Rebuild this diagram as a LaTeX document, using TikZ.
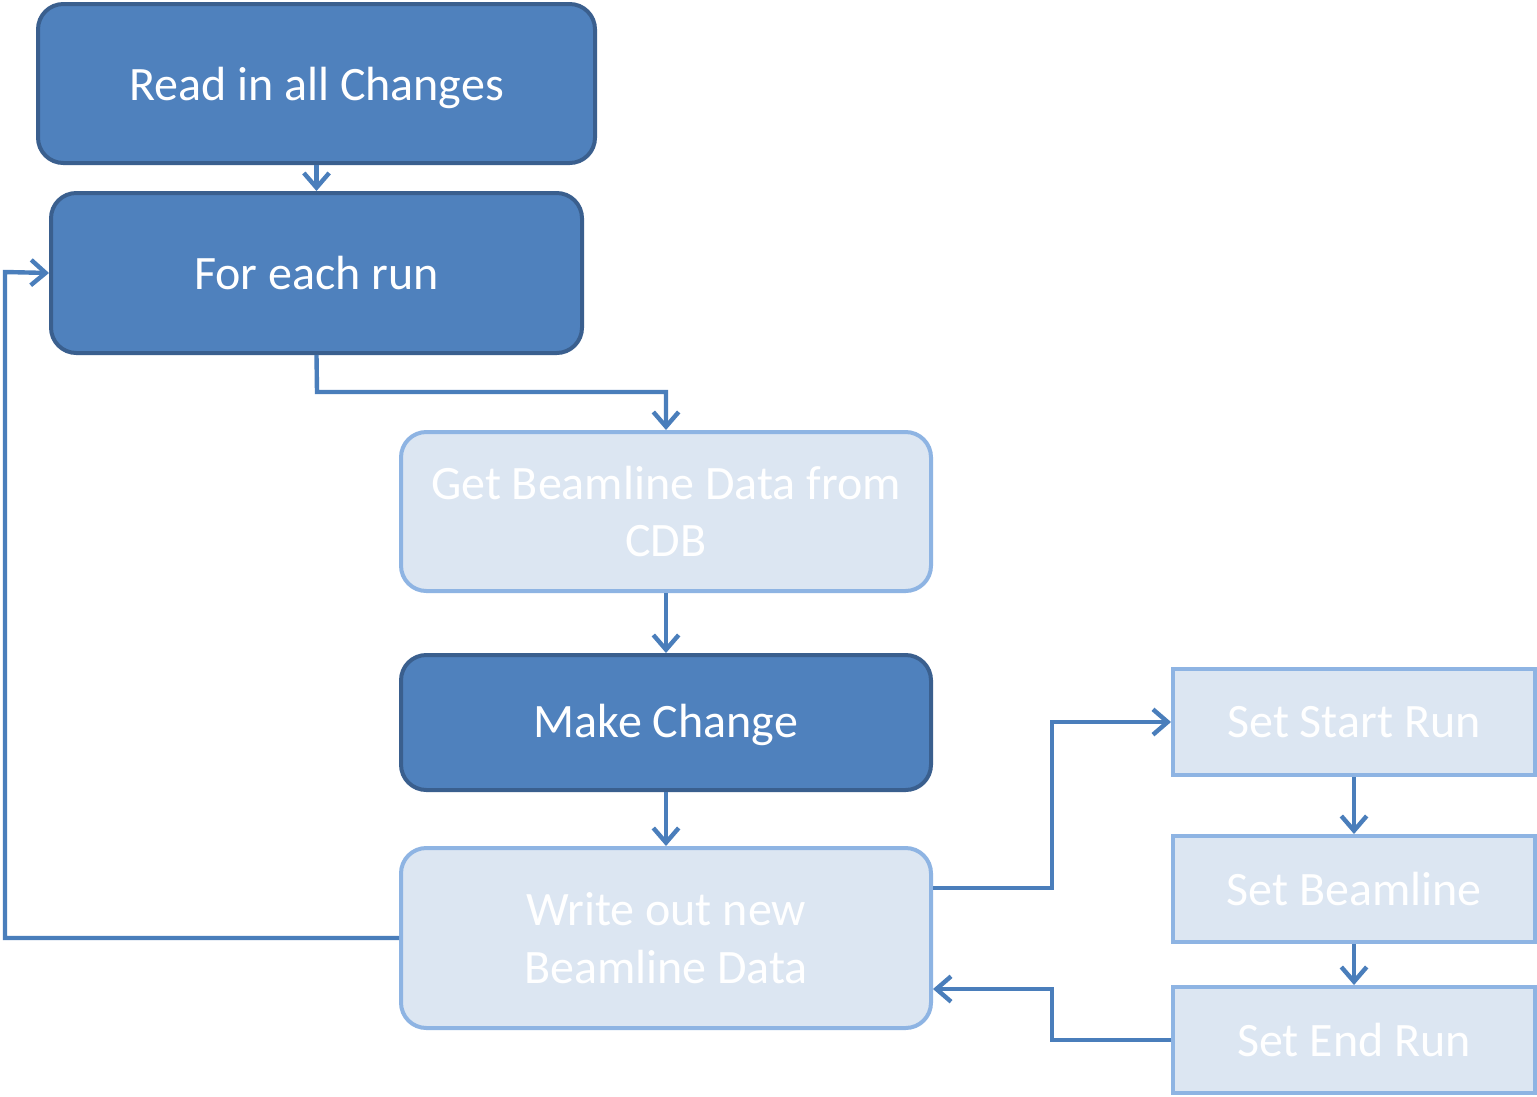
\documentclass[tikz,border=0pt]{standalone}
\usepackage{fontspec}
\setmainfont{Carlito}
\usetikzlibrary{arrows.meta}
\definecolor{darkfill}{HTML}{4F81BD}
\definecolor{darkline}{HTML}{3A5F8E}
\definecolor{lightfill}{HTML}{DCE6F2}
\definecolor{lightline}{HTML}{8EB4E3}
\definecolor{conn}{HTML}{4A7EBB}
\tikzset{
  boxtext/.style={text=white, font=\fontsize{36pt}{43pt}\selectfont, align=center, inner sep=0pt},
  darkbox/.style={boxtext, draw=darkline, fill=darkfill, line width=3pt, rounded corners=19pt},
  lightbox/.style={boxtext, draw=lightline, fill=lightfill, line width=3pt, rounded corners=19pt},
  lightrect/.style={boxtext, draw=lightline, fill=lightfill, line width=3pt},
  conline/.style={draw=conn, line width=3.3pt, -{Straight Barb[length=11pt,width=19pt,line width=3.3pt]}}
}
\begin{document}
\begin{tikzpicture}[x=0.75pt,y=-0.75pt]
\useasboundingbox[fill=white] (0,0) rectangle (1537,1096);
\node[darkbox, minimum width=417.75pt, minimum height=119.25pt] (b1) at (316.5,83.5) {\raisebox{-3pt}[\height][\depth]{Read in all Changes}};
\node[darkbox, minimum width=398.25pt, minimum height=120pt] (b2) at (316.5,273) {For each run};
\node[lightbox, minimum width=397.5pt, minimum height=119.25pt] (b3) at (666,511.5) {Get Beamline Data from\\CDB};
\node[darkbox, minimum width=397.5pt, minimum height=101.25pt] (b4) at (666,722.5) {\raisebox{-1.5pt}[\height][\depth]{Make Change}};
\node[lightbox, minimum width=397.5pt, minimum height=135pt] (b5) at (666,938) {Write out new\\Beamline Data};
\node[lightrect, minimum width=271.5pt, minimum height=79.5pt] (b6) at (1354,722) {Set Start Run};
\node[lightrect, minimum width=271.5pt, minimum height=79.5pt] (b7) at (1354,889) {Set Beamline};
\node[lightrect, minimum width=271.5pt, minimum height=79.5pt] (b8) at (1354,1040) {Set End Run};

\coordinate (c1) at (317,392);
\coordinate (c2) at (666,392);
\coordinate (c3) at (5,938);
\coordinate (c4) at (5,272);
\coordinate (c5) at (1052,888);
\coordinate (c6) at (1052,722);
\coordinate (c7) at (1052,1040);
\coordinate (c8) at (1052,989);

\draw[conline] (b1.south) -- (b2.north);
\draw[conline] (b2.south) -- (c1) -- (c2) -- (b3.north);
\draw[conline] (b3.south) -- (b4.north);
\draw[conline] (b4.south) -- (b5.north);
\draw[conline] (b5.west) -- (c3) -- (c4) -- (b2.west);
\draw[conline] (b5.east |- c5) -- (c5) -- (c6) -- (b6.west);
\draw[conline] (b6.south) -- (b7.north);
\draw[conline] (b7.south) -- (b8.north);
\draw[conline] (b8.west) -- (c7) -- (c8) -- (b5.east |- c8);
\end{tikzpicture}
\end{document}
